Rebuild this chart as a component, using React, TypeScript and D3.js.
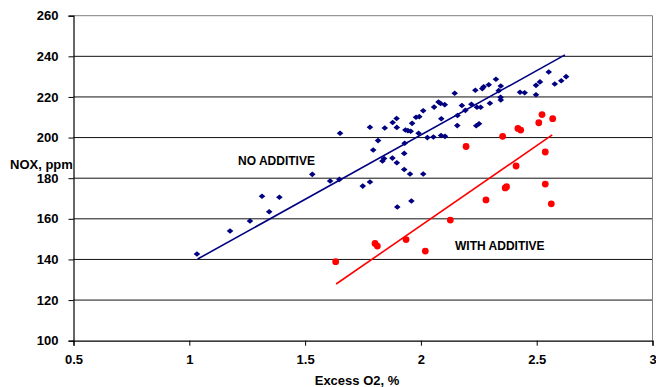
import React, { useRef, useEffect } from "react";
import * as d3 from "d3";

// NO ADDITIVE readings: excess O2 (%) and NOx (ppm)
const noAddO2 = [
  1.033, 1.176, 1.262, 1.314, 1.345, 1.389, 1.531, 1.608, 1.648, 1.651,
  1.749, 1.78, 1.78, 1.815, 1.794, 1.844, 1.878, 1.895, 1.896, 1.834,
  1.841, 1.877, 1.896, 1.93, 1.928, 1.928, 1.953, 2.01, 1.898, 1.959,
  1.933, 1.944, 1.956, 1.962, 1.979, 1.993, 2.01, 1.99, 2.028, 2.054,
  2.057, 2.076, 2.085, 2.103, 2.088, 2.087, 2.104, 2.146, 2.158, 2.157,
  2.177, 2.192, 2.218, 2.235, 2.239, 2.251, 2.242, 2.258, 2.265, 2.271,
  2.293, 2.298, 2.324, 2.336, 2.345, 2.344, 2.345, 2.428, 2.448, 2.497,
  2.514, 2.497, 2.552, 2.578, 2.606, 2.627,
];
const noAddNox = [
  142.7, 154.0, 158.9, 171.1, 163.5, 170.6, 181.9, 178.6, 179.4, 202.1,
  176.1, 178.1, 205.1, 198.5, 193.9, 204.7, 207.4, 209.4, 205.0, 188.5,
  189.7, 189.9, 187.6, 197.2, 192.2, 184.3, 182.1, 182.1, 165.8, 168.8,
  203.7, 203.4, 203.1, 207.0, 210.0, 210.3, 213.2, 202.1, 200.0, 200.3,
  215.0, 217.5, 216.8, 216.2, 209.3, 201.0, 200.6, 221.8, 210.9, 205.9,
  215.8, 213.4, 216.4, 223.3, 205.8, 206.8, 214.9, 214.9, 224.1, 225.0,
  226.0, 216.9, 228.7, 223.1, 225.4, 219.8, 218.5, 222.3, 222.1, 225.7,
  227.4, 221.1, 232.3, 226.4, 228.0, 230.0,
];

// WITH ADDITIVE readings
const withAddO2 = [
  1.632, 1.802, 1.812, 1.936, 2.019, 2.127, 2.195, 2.281, 2.353, 2.364,
  2.37, 2.411, 2.419, 2.431, 2.509, 2.523, 2.537, 2.537, 2.569, 2.563,
];
const withAddNox = [
  138.9, 147.9, 146.6, 149.8, 144.1, 159.4, 195.6, 169.3, 200.6, 175.2,
  175.8, 186.0, 204.5, 203.7, 207.3, 211.3, 192.9, 177.1, 209.3, 167.4,
];

// trendline ends
const noAddTrendO2 = [1.036, 2.622];
const noAddTrendNox = [140.2, 240.7];
const withAddTrendO2 = [1.634, 2.567];
const withAddTrendNox = [127.9, 201.3];

const xTicks = [0.5, 1, 1.5, 2, 2.5, 3];
const yTicks = [100, 120, 140, 160, 180, 200, 220, 240, 260];

const BLUE = "#000080";
const RED = "#ff0000";
const FONT = "'Liberation Sans', Arial, sans-serif";

const App = () => {
  const ref = useRef<SVGSVGElement>(null);

  useEffect(() => {
    const svg = d3.select(ref.current);
    svg.selectAll("*").remove();

    const width = 656;
    const height = 387;
    svg.attr("width", width).attr("height", height);

    const x = d3.scaleLinear().domain([0.5, 3]).range([73.5, 652.5]);
    const y = d3.scaleLinear().domain([100, 260]).range([340.7, 15.7]);

    // gridlines
    svg
      .append("g")
      .selectAll("line")
      .data(yTicks.filter((d) => d > 100))
      .enter()
      .append("line")
      .attr("x1", x(0.5))
      .attr("x2", x(3))
      .attr("y1", (d) => y(d))
      .attr("y2", (d) => y(d))
      .attr("stroke", (d) => (d === 260 ? "#808080" : "#111"))
      .attr("stroke-width", 1);

    // right border
    svg
      .append("line")
      .attr("x1", x(3))
      .attr("x2", x(3))
      .attr("y1", y(260))
      .attr("y2", y(100))
      .attr("stroke", "#808080");

    const yAxis = svg
      .append("g")
      .attr("transform", `translate(${x(0.5)},0)`)
      .call(d3.axisLeft(y).tickValues(yTicks).tickSize(5).tickPadding(10));
    const xAxis = svg
      .append("g")
      .attr("transform", `translate(0,${y(100)})`)
      .call(
        d3
          .axisBottom(x)
          .tickValues(xTicks)
          .tickSize(5)
          .tickPadding(9)
          .tickFormat((d) => `${d}`)
      );

    [yAxis, xAxis].forEach((ax) => {
      ax.select(".domain").attr("stroke", "#000").attr("stroke-width", 1.2);
      ax.selectAll(".tick line").attr("stroke", "#000");
      ax.selectAll("text")
        .style("font-family", FONT)
        .style("font-weight", "bold")
        .style("font-size", "13px")
        .attr("fill", "#000");
    });

    // trendlines
    const line = d3
      .line<[number, number]>()
      .x((d) => x(d[0]))
      .y((d) => y(d[1]));

    svg
      .append("path")
      .attr("d", line(d3.zip(noAddTrendO2, noAddTrendNox) as [number, number][]))
      .attr("fill", "none")
      .attr("stroke", BLUE)
      .attr("stroke-width", 1.6);
    svg
      .append("path")
      .attr("d", line(d3.zip(withAddTrendO2, withAddTrendNox) as [number, number][]))
      .attr("fill", "none")
      .attr("stroke", RED)
      .attr("stroke-width", 1.6);

    // no additive: diamonds, a touch wider than tall like excel's marker
    const diamond = "M0,-2.8L3.3,0L0,2.8L-3.3,0Z";
    svg
      .append("g")
      .selectAll("path")
      .data(d3.zip(noAddO2, noAddNox))
      .enter()
      .append("path")
      .attr("d", diamond)
      .attr("transform", (d) => `translate(${x(d[0])},${y(d[1])})`)
      .attr("fill", BLUE);

    // with additive: dots
    svg
      .append("g")
      .selectAll("circle")
      .data(d3.zip(withAddO2, withAddNox))
      .enter()
      .append("circle")
      .attr("cx", (d) => x(d[0]))
      .attr("cy", (d) => y(d[1]))
      .attr("r", 3.4)
      .attr("fill", RED);

    const label = (tx: number, ty: number, txt: string, size: number, anchor = "start") =>
      svg
        .append("text")
        .attr("x", tx)
        .attr("y", ty)
        .attr("text-anchor", anchor)
        .style("font-family", FONT)
        .style("font-weight", "bold")
        .style("font-size", `${size}px`)
        .text(txt);

    label(10, 169, "NOX, ppm", 13);
    label(357, 385, "Excess O2, %", 13, "middle");
    label(238, 165, "NO ADDITIVE", 12);
    label(455, 250, "WITH ADDITIVE", 12);
  }, []);

  return (
    <div style={{ position: "absolute", left: 0, top: 0 }}>
      <svg ref={ref} style={{ display: "block" }} />
    </div>
  );
};

export default App;
